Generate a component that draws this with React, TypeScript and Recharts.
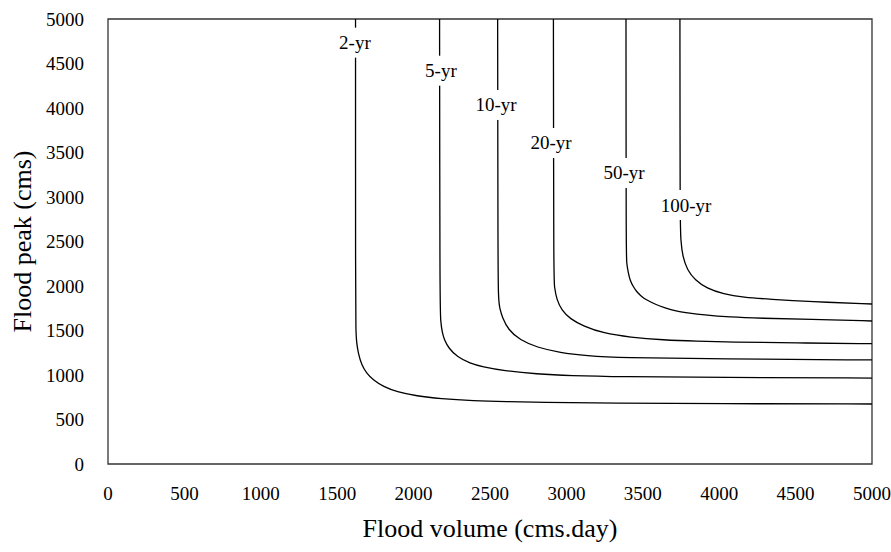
import { LineChart, Line, XAxis, YAxis, ReferenceArea, ReferenceDot, Label } from "recharts";

// flood volume (cms.day) vs flood peak (cms) for each return period
const curve2yr = [
  { v: 1620, q: 5000 }, { v: 1620, q: 1840 }, { v: 1622, q: 1500 }, { v: 1627, q: 1360 },
  { v: 1638, q: 1244 }, { v: 1660, q: 1112 }, { v: 1693, q: 1019 }, { v: 1736, q: 944 },
  { v: 1802, q: 869 }, { v: 1889, q: 812 }, { v: 2020, q: 764 }, { v: 2173, q: 734 },
  { v: 2391, q: 711 }, { v: 2609, q: 700 }, { v: 2827, q: 692 }, { v: 3300, q: 684 },
  { v: 4000, q: 678 }, { v: 5000, q: 674 },
];

const curve5yr = [
  { v: 2170, q: 5000 }, { v: 2172, q: 1800 }, { v: 2177, q: 1600 }, { v: 2187, q: 1480 },
  { v: 2200, q: 1400 }, { v: 2230, q: 1300 }, { v: 2285, q: 1203 }, { v: 2370, q: 1130 },
  { v: 2450, q: 1092 }, { v: 2587, q: 1048 }, { v: 2806, q: 1011 }, { v: 3024, q: 993 },
  { v: 3351, q: 981 }, { v: 4000, q: 972 }, { v: 5000, q: 966 },
];

const curve10yr = [
  { v: 2550, q: 5000 }, { v: 2552, q: 2400 }, { v: 2554, q: 1843 }, { v: 2565, q: 1740 },
  { v: 2580, q: 1650 }, { v: 2620, q: 1506 }, { v: 2696, q: 1393 }, { v: 2806, q: 1311 },
  { v: 2958, q: 1251 }, { v: 3133, q: 1217 }, { v: 3351, q: 1194 }, { v: 4000, q: 1180 },
  { v: 5000, q: 1169 },
];

const curve20yr = [
  { v: 2915, q: 5000 }, { v: 2917, q: 2100 }, { v: 2921, q: 1993 }, { v: 2937, q: 1843 },
  { v: 2969, q: 1730 }, { v: 3024, q: 1630 }, { v: 3111, q: 1550 }, { v: 3242, q: 1469 },
  { v: 3416, q: 1424 }, { v: 3634, q: 1393 }, { v: 3853, q: 1379 }, { v: 4071, q: 1371 },
  { v: 4500, q: 1360 }, { v: 5000, q: 1352 },
];

const curve50yr = [
  { v: 3390, q: 5000 }, { v: 3391, q: 2400 }, { v: 3394, q: 2250 }, { v: 3405, q: 2150 },
  { v: 3416, q: 2067 }, { v: 3438, q: 1990 }, { v: 3460, q: 1936 }, { v: 3493, q: 1880 },
  { v: 3525, q: 1843 }, { v: 3591, q: 1787 }, { v: 3634, q: 1761 }, { v: 3722, q: 1715 },
  { v: 3787, q: 1700 }, { v: 3896, q: 1675 }, { v: 4071, q: 1650 }, { v: 4267, q: 1638 },
  { v: 4594, q: 1625 }, { v: 5000, q: 1607 },
];

const curve100yr = [
  { v: 3743, q: 5000 }, { v: 3744, q: 2742 }, { v: 3748, q: 2517 }, { v: 3761, q: 2329 },
  { v: 3791, q: 2180 }, { v: 3842, q: 2067 }, { v: 3918, q: 1974 }, { v: 4027, q: 1910 },
  { v: 4158, q: 1873 }, { v: 4332, q: 1851 }, { v: 4594, q: 1824 }, { v: 5000, q: 1798 },
];

const curves = [curve2yr, curve5yr, curve10yr, curve20yr, curve50yr, curve100yr];
const periodLabels = ["2-yr", "5-yr", "10-yr", "20-yr", "50-yr", "100-yr"];
// where each label sits on its curve
const labelVolume = [1616, 2179, 2539, 2899, 3377, 3783];
const labelPeak = [4734, 4419, 4034, 3607, 3270, 2910];

const axisTicks = [0, 500, 1000, 1500, 2000, 2500, 3000, 3500, 4000, 4500, 5000];

const serif = "'Liberation Serif', 'Times New Roman', serif";
const tickStyle = { fontFamily: serif, fontSize: 19, fill: "#000" };

function Tag({ cx, cy, text }: any) {
  const w = text.length * 9.5 + 6;
  return (
    <g>
      <rect x={cx - w / 2} y={cy - 15} width={w} height={30} fill="#fff" />
      <text x={cx} y={cy} textAnchor="middle" dominantBaseline="central" style={{ fontFamily: serif, fontSize: 19, fill: "#000" }}>
        {text}
      </text>
    </g>
  );
}

export default function App() {
  return (
    <div style={{ position: "absolute", left: 0, top: 0, background: "#fff", fontFamily: serif }}>
      <LineChart width={891} height={552} margin={{ top: 19, right: 19, bottom: 0, left: 0 }} style={{ fontFamily: serif }}>
        <XAxis
          type="number"
          dataKey="v"
          domain={[0, 5000]}
          ticks={axisTicks}
          allowDataOverflow
          axisLine={false}
          tickLine={false}
          tickSize={0}
          tickMargin={23}
          height={88}
          tick={{ style: tickStyle, fontSize: 19, fill: "#000" }}
        >
          <Label
            value="Flood volume (cms.day)"
            position="insideBottom"
            offset={15}
            style={{ fontFamily: serif, fontSize: 26, fill: "#000" }}
          />
        </XAxis>
        <YAxis
          type="number"
          domain={[0, 5000]}
          ticks={axisTicks}
          allowDataOverflow
          axisLine={false}
          tickLine={false}
          tickSize={0}
          tickMargin={24}
          width={108}
          tick={{ style: tickStyle, fontSize: 19, fill: "#000" }}
        >
          <Label
            content={({ viewBox }: any) => {
              const cy = viewBox.y + viewBox.height / 2;
              return (
                <text
                  x={22}
                  y={cy}
                  transform={`rotate(-90, 22, ${cy})`}
                  textAnchor="middle"
                  dominantBaseline="central"
                  style={{ fontFamily: serif, fontSize: 26, fill: "#000" }}
                >
                  Flood peak (cms)
                </text>
              );
            }}
          />
        </YAxis>
        <ReferenceArea x1={0} x2={5000} y1={0} y2={5000} fill="none" fillOpacity={0} stroke="#333" strokeWidth={1.3} />
        {curves.map((c, i) => (
          <Line
            key={periodLabels[i]}
            data={c}
            dataKey="q"
            type="basis"
            stroke="#000"
            strokeWidth={1.3}
            dot={false}
            activeDot={false}
            isAnimationActive={false}
          />
        ))}
        {periodLabels.map((t, i) => (
          <ReferenceDot
            key={t}
            x={labelVolume[i]}
            y={labelPeak[i]}
            r={0}
            shape={(p: any) => <Tag cx={p.cx} cy={p.cy} text={t} />}
          />
        ))}
      </LineChart>
    </div>
  );
}
